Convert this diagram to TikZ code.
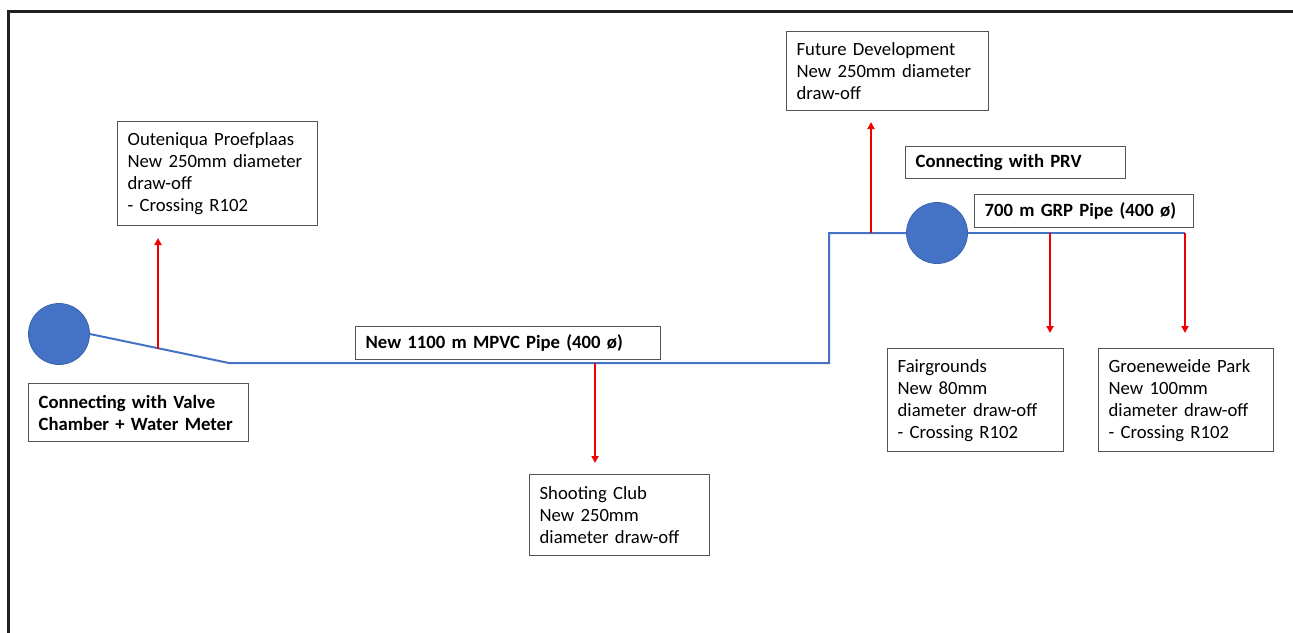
\documentclass[tikz,border=0pt]{standalone}
\usepackage{fontspec}
\setmainfont{Carlito}
\usetikzlibrary{arrows.meta}
\definecolor{pipeblue}{HTML}{4472C4}
\definecolor{edgeblue}{HTML}{3A63AE}
\definecolor{boxgray}{HTML}{555555}
\definecolor{framegray}{HTML}{222222}
\definecolor{drawred}{HTML}{F00000}
\tikzset{
  lbl/.style={draw=boxgray, line width=1.3pt, fill=white, anchor=north west,
    align=left, inner xsep=10pt, inner ysep=0pt,
    font=\fontsize{18.7}{22}\selectfont},
  pipe/.style={draw=pipeblue, line width=2pt},
  valve/.style={circle, fill=pipeblue, draw=edgeblue, line width=0.8pt, minimum size=61pt, inner sep=0pt},
  drawoff/.style={draw=drawred, line width=1.8pt, -{Triangle[length=7pt,width=7pt]}}
}
\newcommand{\bx}[6]{% name, x, y, w, h, text
  \node[lbl, text width=#4pt-20pt, minimum height=#5pt] (#1) at (#2,#3) {#6};}
\begin{document}
\begin{tikzpicture}[x=1pt,y=-1pt]
\useasboundingbox (0,0) rectangle (1293,632);
% frame
\draw[framegray, line width=2.5pt] (8.5,640) -- (8.5,11.5) -- (1300,11.5);
% valves
\node[valve] (v1) at (59,334) {};
\node[valve] (v2) at (937,233) {};
% pipe coordinates
\coordinate (p1) at (229,363);
\coordinate (p2) at (829,363);
\coordinate (p3) at (829,233);
\coordinate (p4) at (1185,233);
\coordinate (jA) at (158,348.5);
\coordinate (jB) at (595,363);
\coordinate (jC) at (871,233);
\coordinate (jD) at (1050,233);
\coordinate (eA) at (158,238);
\coordinate (eB) at (595,463);
\coordinate (eC) at (871,122);
\coordinate (eD) at (1050,333);
\coordinate (eE) at (1185,333);
% pipes
\draw[pipe] (v1.east) -- (p1) -- (p2) -- (p3) -- (v2.west);
\draw[pipe] (v2.east) -- (p4);
% draw-offs
\draw[drawoff] (jA) -- (eA);
\draw[drawoff] (jB) -- (eB);
\draw[drawoff] (jC) -- (eC);
\draw[drawoff] (jD) -- (eD);
\draw[drawoff] (p4) -- (eE);
% labels
\bx{outeniqua}{117}{121}{200}{104}{Outeniqua Proefplaas\\New 250mm diameter\\draw-off\\- Crossing R102}
\bx{valvelbl}{28}{383}{220}{58}{\textbf{Connecting with Valve}\\\textbf{Chamber + Water Meter}}
\bx{mpvc}{355}{326}{305}{33}{\textbf{New 1100 m MPVC Pipe (400 ø)}}
\bx{shooting}{529}{474}{180}{81}{Shooting Club\\New 250mm\\diameter draw-off}
\bx{future}{786}{31}{202}{79}{Future Development\\New 250mm diameter\\draw-off}
\bx{prv}{905}{146}{220}{32}{\textbf{Connecting with PRV}}
\bx{grp}{974}{194}{219}{33}{\textbf{700 m GRP Pipe (400 ø)}}
\bx{fair}{887}{348}{176}{103}{Fairgrounds\\New 80mm\\diameter draw-off\\- Crossing R102}
\bx{groen}{1098}{348}{175}{103}{Groeneweide Park\\New 100mm\\diameter draw-off\\- Crossing R102}
\end{tikzpicture}
\end{document}
